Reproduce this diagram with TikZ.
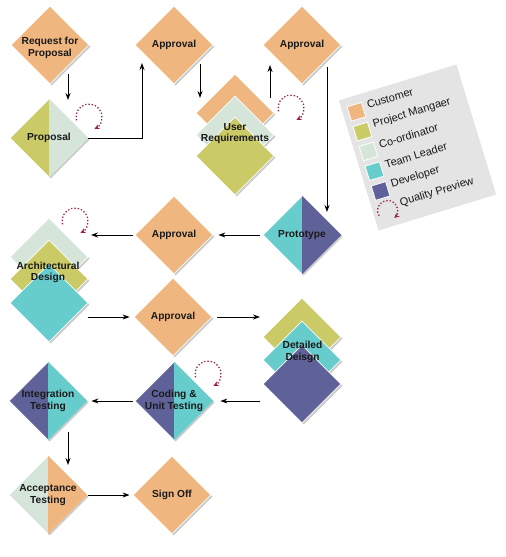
\documentclass[tikz,border=0pt]{standalone}
\usepackage{fontspec}
\setmainfont{Liberation Sans}
\usetikzlibrary{shapes.geometric,arrows.meta,shadows,calc}
\definecolor{cOr}{HTML}{F0B67F}
\definecolor{cOl}{HTML}{CACA66}
\definecolor{cLg}{HTML}{D5E5DA}
\definecolor{cTe}{HTML}{66CCCC}
\definecolor{cPu}{HTML}{5F6299}
\definecolor{cQa}{HTML}{9A1E4C}
\definecolor{cLeg}{HTML}{E4E4E4}
\tikzset{
  dia/.style={diamond, aspect=1, inner sep=0pt, minimum width=78pt, minimum height=78pt,
    draw=white, line width=0.8pt,
    drop shadow={shadow xshift=1.6pt, shadow yshift=-1.6pt, opacity=0.35, fill=black!60}},
  lbl/.style={font=\bfseries\fontsize{10.2}{11.5}\selectfont, align=center, text=black!90},
  arr/.style={-{Stealth[length=7pt,width=5pt]}, line width=0.9pt},
  qa/.style={draw=cQa, dotted, line width=1.3pt, -{Stealth[length=5pt,width=5pt]}},
  swatch/.style={minimum size=15pt, inner sep=0pt, draw=white, line width=0.8pt},
  ltext/.style={font=\fontsize{11}{12}\selectfont, anchor=west, inner sep=0pt, text=black!90},
}
\newcommand\qualarc[2]{\draw[qa] ([shift={(195:#2)}]#1) arc[start angle=195, end angle=-65, radius=#2];}
\begin{document}
\begin{tikzpicture}[x=1pt,y=-1pt]
\useasboundingbox (0,0) rectangle (506,557);

% Row 1
\node[dia, fill=cOr] (rfp) at (50,45) {};
\node[lbl] at (50,48) {Request for\\Proposal};
\node[dia, fill=cOr, label={[lbl]center:Approval}] (a1) at (174,45) {};
\node[dia, fill=cOr, label={[lbl]center:Approval}] (a2) at (302,45) {};

% Proposal (split)
\node[dia, fill=cOl] (prop) at (49,138) {};
\fill[cLg] (prop.north) -- (prop.east) -- (prop.south) -- cycle;
\node[lbl] at (prop) {Proposal};

% User Requirements stack
\node[dia, fill=cOr] (ur1) at (235,113) {};
\node[dia, fill=cLg] (ur2) at (235,135) {};
\node[dia, fill=cOl] (ur3) at (235,156) {};
\node[lbl] (urt) at (235,133.5) {User\\Requirements};

% Row 2
\node[dia, fill=cTe] (proto) at (302,235) {};
\fill[cPu] (proto.north) -- (proto.east) -- (proto.south) -- cycle;
\node[lbl] at (proto) {Prototype};
\node[dia, fill=cOr, label={[lbl]center:Approval}] (a3) at (174,235) {};

% Architectural Design stack
\node[dia, fill=cLg] (ar1) at (49,257) {};
\node[dia, fill=cOl] (ar2) at (49,279) {};
\node[dia, fill=cTe] (ar3) at (49,303) {};
\node[lbl] (art) at (48,272.5) {Architectural\\Design};

% Row 3
\node[dia, fill=cOr, label={[lbl]center:Approval}] (a4) at (173,317) {};

% Detailed Design stack
\node[dia, fill=cOl] (dd1) at (302,337) {};
\node[dia, fill=cTe] (dd2) at (302,360) {};
\node[dia, fill=cPu] (dd3) at (302,384) {};
\node[lbl] (ddt) at (302.5,352) {Detailed\\Deisgn};

% Row 4
\node[dia, fill=cPu] (cod) at (174,401) {};
\fill[cTe] (cod.north) -- (cod.east) -- (cod.south) -- cycle;
\node[lbl] at (cod) {Coding \&\\Unit Testing};
\node[dia, fill=cPu] (int) at (48,401) {};
\fill[cTe] (int.north) -- (int.east) -- (int.south) -- cycle;
\node[lbl] at (int) {Integration\\Testing};

% Row 5
\node[dia, fill=cLg] (acc) at (48,495) {};
\fill[cOr] (acc.north) -- (acc.east) -- (acc.south) -- cycle;
\node[lbl] at (acc) {Acceptance\\Testing};
\node[dia, fill=cOr, label={[lbl]center:Sign Off}] (so) at (172,495) {};

% Connectors
\draw[arr] ($(rfp)+(18,29)$) -- ($(prop)+(19,-38)$);
\draw[arr] (prop.east) -| ($(a1)+(-32,18)$);
\draw[arr] ($(a1)+(26,19)$) -- ($(ur1)+(-35,-15)$);
\draw[arr] ($(ur1)+(35,-15)$) -- ($(a2)+(-32,20)$);
\draw[arr] ($(a2)+(25,22)$) -- ($(proto)+(25,-23)$);
\draw[arr, shorten <=3pt, shorten >=5pt] (proto.west) -- (a3.east);
\draw[arr, shorten <=2pt] (a3.west) -- ($(ar1)+(42,-22)$);
\draw[arr, shorten >=4pt] ($(ar3)+(39,14)$) -- (a4.west);
\draw[arr, shorten <=5pt] (a4.east) -- ($(dd1)+(-42,-20)$);
\draw[arr, shorten >=7pt] ($(dd3)+(-42,17)$) -- (cod.east);
\draw[arr, shorten <=2pt, shorten >=4pt] (cod.west) -- (int.east);
\draw[arr] ($(int)+(20,31)$) -- ($(acc)+(20,-30)$);
\draw[arr, shorten <=1pt, shorten >=3pt] (acc.east) -- (so.west);

% Quality preview arcs
\coordinate (q1) at (89,117);
\coordinate (q2) at (291,108);
\coordinate (q3) at (75,221);
\coordinate (q4) at (208,374);
\qualarc{q1}{13pt}
\qualarc{q2}{13pt}
\qualarc{q3}{13pt}
\qualarc{q4}{13pt}

% Legend
\begin{scope}[shift={(417.5,147.5)}, rotate=17, transform shape]
  \fill[cLeg] (-61.5,-68) rectangle (61.5,68);
  \node[swatch, fill=cOr] (l1) at (-48,-52) {};
  \node[swatch, fill=cOl] (l2) at (-48,-31.3) {};
  \node[swatch, fill=cLg] (l3) at (-48,-10.6) {};
  \node[swatch, fill=cTe] (l4) at (-48,10.1) {};
  \node[swatch, fill=cPu] (l5) at (-48,30.8) {};
  \coordinate (l6) at (-47,51.5);
  \qualarc{l6}{10pt}
  \node[ltext] at (-36,-55) {Customer};
  \node[ltext] at (-36,-34.3) {Project Mangaer};
  \node[ltext] at (-36,-13.6) {Co-ordinator};
  \node[ltext] at (-36,7.1) {Team Leader};
  \node[ltext] at (-36,27.8) {Developer};
  \node[ltext] at (-33,48.5) {Quality Preview};
\end{scope}
\end{tikzpicture}
\end{document}
